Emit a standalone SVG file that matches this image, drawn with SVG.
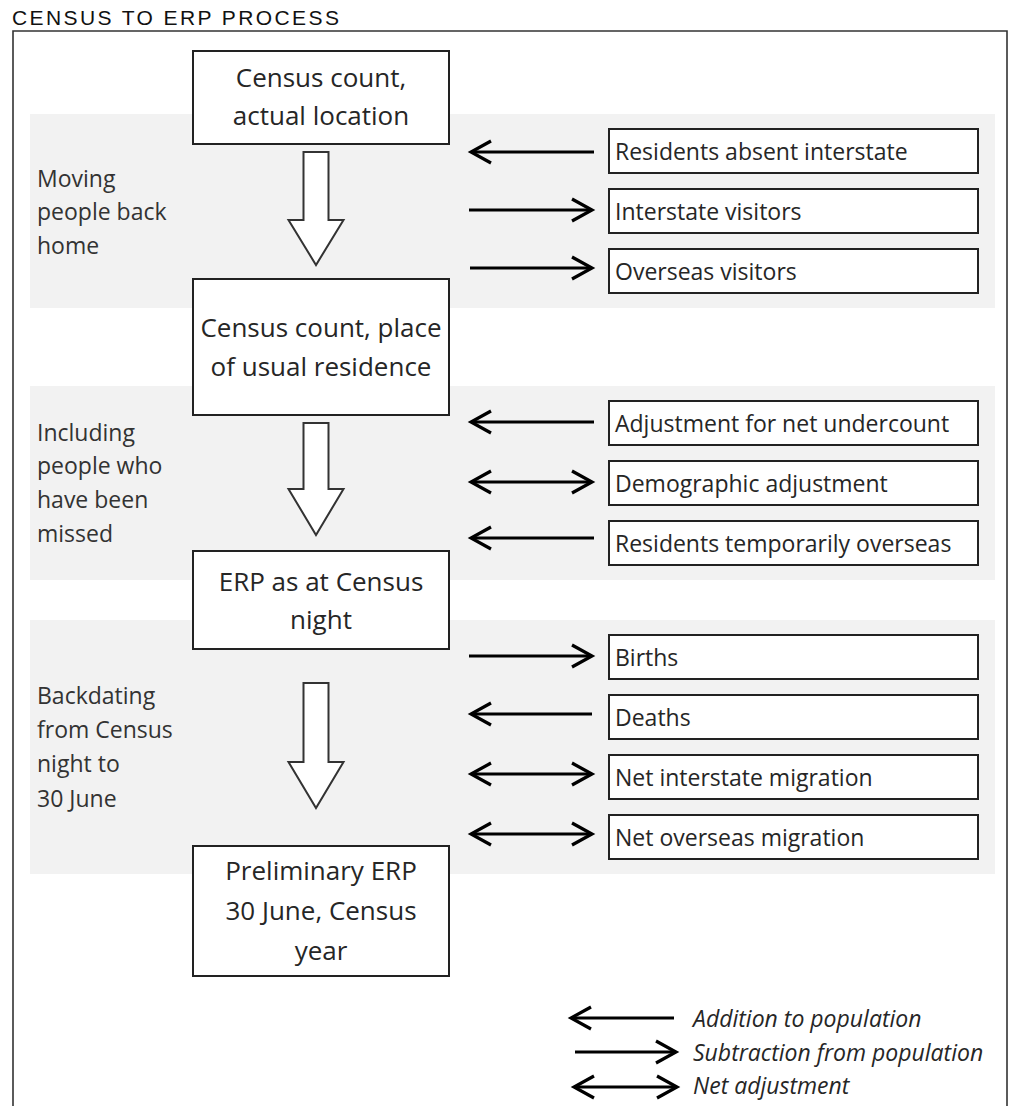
<svg xmlns="http://www.w3.org/2000/svg" width="1012" height="1106" viewBox="0 0 1012 1106">
<defs>
<style>
.title{font-family:"Liberation Sans",Arial,sans-serif;font-size:21px;letter-spacing:2.4px;fill:#111}
.frame{fill:none;stroke:#333;stroke-width:1.6}
.band{fill:#f2f2f2}
.main{fill:#fff;stroke:#222;stroke-width:2}
.side{fill:#fff;stroke:#222;stroke-width:2}
.mt{font-family:"Open Sans","Noto Sans",sans-serif;font-size:26px;fill:#262626;text-anchor:middle}
.st{font-family:"Open Sans","Noto Sans",sans-serif;font-size:23px;fill:#262626}
.lt{font-family:"Open Sans","Noto Sans",sans-serif;font-size:23px;fill:#333}
.leg{font-family:"Open Sans","Noto Sans",sans-serif;font-size:23px;font-style:italic;fill:#262626}
.flow{fill:#fff;stroke:#333;stroke-width:2;stroke-linejoin:miter}
.arr{fill:none;stroke:#000;stroke-width:3.2}
</style>
<marker id="head" viewBox="-24 -14 28 28" refX="0" refY="0" markerWidth="28" markerHeight="28" markerUnits="userSpaceOnUse" orient="auto-start-reverse">
<path d="M-20,-11 L0,0 L-20,11" fill="none" stroke="#000" stroke-width="3.2" stroke-linejoin="miter"/>
</marker>
</defs>
<rect width="1012" height="1106" fill="#fff"/>
<text class="title" x="12" y="25">CENSUS TO ERP PROCESS</text>
<path class="frame" d="M13,1106 V31 H1007 V1106"/>

<g id="band1"><rect class="band" x="30" y="114" width="965" height="194"/>
<text class="lt" x="37"><tspan x="37" y="187">Moving</tspan><tspan x="37" y="220">people back</tspan><tspan x="37" y="254">home</tspan></text></g>
<g id="band2"><rect class="band" x="30" y="386" width="965" height="194"/>
<text class="lt" x="37"><tspan x="37" y="441">Including</tspan><tspan x="37" y="474">people who</tspan><tspan x="37" y="508">have been</tspan><tspan x="37" y="542">missed</tspan></text></g>
<g id="band3"><rect class="band" x="30" y="620" width="965" height="254"/>
<text class="lt" x="37"><tspan x="37" y="704">Backdating</tspan><tspan x="37" y="738">from Census</tspan><tspan x="37" y="772">night to</tspan><tspan x="37" y="807">30 June</tspan></text></g>

<g id="census-actual"><rect class="main" x="193" y="51" width="256" height="93"/>
<text class="mt"><tspan x="321" y="87">Census count,</tspan><tspan x="321" y="125">actual location</tspan></text></g>
<g id="census-usual"><rect class="main" x="193" y="279" width="256" height="136"/>
<text class="mt"><tspan x="321" y="337">Census count, place</tspan><tspan x="321" y="376">of usual residence</tspan></text></g>
<g id="erp-census-night"><rect class="main" x="193" y="551" width="256" height="98"/>
<text class="mt"><tspan x="321" y="591">ERP as at Census</tspan><tspan x="321" y="629">night</tspan></text></g>
<g id="preliminary-erp"><rect class="main" x="193" y="846" width="256" height="130"/>
<text class="mt"><tspan x="321" y="880">Preliminary ERP</tspan><tspan x="321" y="920">30 June, Census</tspan><tspan x="321" y="960">year</tspan></text></g>

<g id="residents-absent"><rect class="side" x="609" y="129" width="369" height="44"/><text class="st" x="615" y="160">Residents absent interstate</text></g>
<g id="interstate-visitors"><rect class="side" x="609" y="189" width="369" height="44"/><text class="st" x="615" y="220">Interstate visitors</text></g>
<g id="overseas-visitors"><rect class="side" x="609" y="249" width="369" height="44"/><text class="st" x="615" y="280">Overseas visitors</text></g>
<g id="undercount"><rect class="side" x="609" y="401" width="369" height="44"/><text class="st" x="615" y="432">Adjustment for net undercount</text></g>
<g id="demographic"><rect class="side" x="609" y="461" width="369" height="44"/><text class="st" x="615" y="492">Demographic adjustment</text></g>
<g id="temp-overseas"><rect class="side" x="609" y="521" width="369" height="44"/><text class="st" x="615" y="552">Residents temporarily overseas</text></g>
<g id="births"><rect class="side" x="609" y="635" width="369" height="44"/><text class="st" x="615" y="666">Births</text></g>
<g id="deaths"><rect class="side" x="609" y="695" width="369" height="44"/><text class="st" x="615" y="726">Deaths</text></g>
<g id="net-interstate"><rect class="side" x="609" y="755" width="369" height="44"/><text class="st" x="615" y="786">Net interstate migration</text></g>
<g id="net-overseas"><rect class="side" x="609" y="815" width="369" height="44"/><text class="st" x="615" y="846">Net overseas migration</text></g>

<g id="connectors">
<path class="flow" d="M303.5,152 H328.5 V220 H343.5 L316,265 L288.5,220 H303.5 Z"/>
<path class="flow" d="M303.5,423 H328.5 V489 H343.5 L316,535 L288.5,489 H303.5 Z"/>
<path class="flow" d="M303.5,683 H328.5 V762 H343.5 L316,808 L288.5,762 H303.5 Z"/>
<line class="arr" x1="594" y1="152" x2="471" y2="152" marker-end="url(#head)"/>
<line class="arr" x1="469" y1="210" x2="592" y2="210" marker-end="url(#head)"/>
<line class="arr" x1="470" y1="268" x2="592" y2="268" marker-end="url(#head)"/>
<line class="arr" x1="594" y1="422" x2="471" y2="422" marker-end="url(#head)"/>
<line class="arr" x1="471" y1="482" x2="592" y2="482" marker-start="url(#head)" marker-end="url(#head)"/>
<line class="arr" x1="594" y1="538" x2="471" y2="538" marker-end="url(#head)"/>
<line class="arr" x1="469" y1="656" x2="592" y2="656" marker-end="url(#head)"/>
<line class="arr" x1="592" y1="714" x2="471" y2="714" marker-end="url(#head)"/>
<line class="arr" x1="471" y1="774" x2="592" y2="774" marker-start="url(#head)" marker-end="url(#head)"/>
<line class="arr" x1="471" y1="834" x2="592" y2="834" marker-start="url(#head)" marker-end="url(#head)"/>
</g>

<g id="legend">
<line class="arr" x1="674" y1="1018" x2="571" y2="1018" marker-end="url(#head)"/>
<text class="leg" x="693" y="1027">Addition to population</text>
<line class="arr" x1="575" y1="1052" x2="676" y2="1052" marker-end="url(#head)"/>
<text class="leg" x="693" y="1061">Subtraction from population</text>
<line class="arr" x1="574" y1="1087" x2="677" y2="1087" marker-start="url(#head)" marker-end="url(#head)"/>
<text class="leg" x="693" y="1094">Net adjustment</text>
</g>
</svg>
